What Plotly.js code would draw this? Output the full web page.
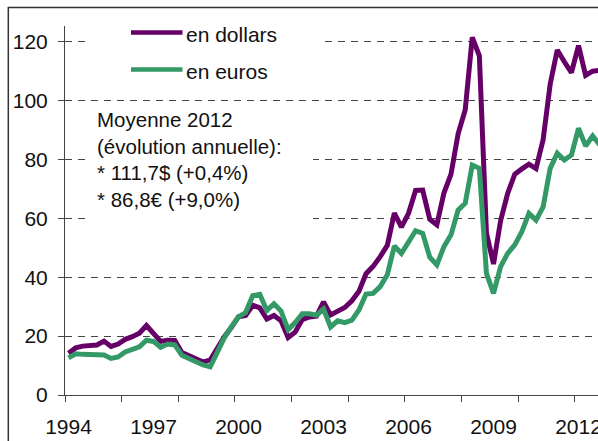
<!DOCTYPE html>
<html>
<head>
<meta charset="utf-8">
<script src="https://cdn.plot.ly/plotly-3.0.1.min.js"></script>
<style>html,body{margin:0;padding:0;background:#fff;overflow:hidden}</style>
</head>
<body>
<div id="chart" style="width:598px;height:441px"></div>
<script>
// ---- Data (quarterly averages, Brent) ----
const years = [1994,1995,1996,1997,1998,1999,2000,2001,2002,2003,2004,2005,2006,2007,2008,2009,2010,2011,2012];
const tickYears = ['1994','1997','2000','2003','2006','2009','2012'];
const seriesNames = ['en dollars', 'en euros'];
const enDollars = [
  14.2,16.0,16.6,16.7,  17.0,18.3,16.5,17.3,  18.9,19.8,21.0,23.6,  21.0,18.2,18.6,18.5,
  14.4,13.3,12.3,11.2,  11.9,16.0,19.8,23.0,  26.6,27.0,30.5,29.6,  25.8,27.0,25.2,19.5,
  21.4,25.6,26.5,26.8,  31.6,27.2,28.6,29.7,  32.0,35.2,41.2,43.7,  47.0,50.8,61.8,57.0,
  61.7,69.5,69.6,59.7,  57.8,68.6,75.0,88.7,  96.8,121.5,115.2,55.0, 44.5,59.2,68.5,75.0,
  76.8,78.4,76.9,86.7,  105.6,117.2,113.2,109.5, 118.7,108.6,110.0,110.3
];
const enEuros = [
  12.6,14.0,13.8,13.6,  13.4,13.6,12.4,12.9,  14.6,15.4,16.4,18.6,  18.2,16.2,17.3,17.0,
  13.5,12.4,11.2,10.2,  9.6,14.5,19.5,23.2,   26.5,28.0,33.7,34.2,  28.7,31.0,28.5,22.2,
  24.6,27.6,27.6,27.1,  29.2,23.1,25.2,24.6,  25.4,28.9,34.3,34.5,  36.8,40.8,50.6,48.1,
  52.1,55.8,54.9,46.8,  44.2,50.4,54.4,62.8,  65.1,78.1,77.0,41.3,  34.5,43.6,48.1,51.0,
  55.5,61.7,59.4,63.9,  77.0,82.1,79.8,81.5,  90.6,84.6,88.0,84.9
];
const noteLines = ['Moyenne 2012', '(évolution annuelle):', '* 111,7$ (+0,4%)', '* 86,8€ (+9,0%)'];

// quarter index for each value
const quarters = [];
years.forEach(y => { for (let q = 1; q <= 4; q++) quarters.push(y + 'T' + q); });
const xIdx = quarters.map((_, i) => i);
const tickVals = tickYears.map(y => quarters.indexOf(y + 'T1'));
const majorTicks = [];
for (let k = 0; k * 8 < quarters.length; k++) majorTicks.push(k * 8 - 0.5);

// ---- Layout geometry ----
const W = 598, H = 441;
const L = 65, R = 598, T = 26, B = 395;
const pxPerQ = 7.083, pxPerUnit = 2.944;
const px = v => (v - L) / (R - L);
const py = v => (B - v) / (B - T);

const purple = '#660066', green = '#339966';
const FONT = 'Liberation Sans, Arial, sans-serif';

const traces = [
  {x: xIdx, y: enDollars, name: seriesNames[0], mode: 'lines', line: {color: purple, width: 5}, hoverinfo: 'skip'},
  {x: xIdx, y: enEuros, name: seriesNames[1], mode: 'lines', line: {color: green, width: 5}, hoverinfo: 'skip'}
];

const shapes = [
  // white boxes hiding gridlines behind legend and note
  {type: 'rect', xref: 'paper', yref: 'paper', layer: 'above', x0: px(86), x1: px(325), y0: py(90), y1: py(24), fillcolor: '#fff', line: {width: 0}},
  {type: 'rect', xref: 'paper', yref: 'paper', layer: 'above', x0: px(91), x1: px(313), y0: py(228), y1: py(108), fillcolor: '#fff', line: {width: 0}},
  // chart frame
  {type: 'rect', xref: 'paper', yref: 'paper', x0: px(8.3), x1: px(610), y0: py(460), y1: py(7.5), line: {color: '#333', width: 1.5}, fillcolor: 'rgba(0,0,0,0)'},
  // legend lines
  {type: 'line', xref: 'paper', yref: 'paper', x0: px(131), x1: px(182.5), y0: py(32.5), y1: py(32.5), line: {color: purple, width: 4.7}},
  {type: 'line', xref: 'paper', yref: 'paper', x0: px(131), x1: px(182.5), y0: py(69.5), y1: py(69.5), line: {color: green, width: 4.7}}
];

const annotations = [
  {xref: 'paper', yref: 'paper', x: px(184), y: py(34), xanchor: 'left', yanchor: 'middle', showarrow: false,
   text: seriesNames[0], font: {family: FONT, size: 21, color: '#111'}},
  {xref: 'paper', yref: 'paper', x: px(184), y: py(71), xanchor: 'left', yanchor: 'middle', showarrow: false,
   text: seriesNames[1], font: {family: FONT, size: 21, color: '#111'}},
  {xref: 'paper', yref: 'paper', x: px(95), y: py(159.5), xanchor: 'left', yanchor: 'middle', align: 'left', showarrow: false,
   text: noteLines.join('<br>'), font: {family: FONT, size: 20.5, color: '#111'}}
];

const layout = {
  width: W, height: H,
  margin: {l: L, r: W - R, t: T, b: H - B, pad: 0},
  paper_bgcolor: '#fff', plot_bgcolor: '#fff',
  showlegend: false,
  font: {family: FONT, size: 21, color: '#111'},
  xaxis: {
    range: [-0.5, -0.5 + (R - L) / pxPerQ],
    tickmode: 'array', tickvals: tickVals, ticktext: tickYears,
    ticks: 'outside', ticklen: 6, tickcolor: 'rgba(0,0,0,0)',
    minor: {tickmode: 'array', tickvals: majorTicks, ticks: 'outside', ticklen: 6, tickcolor: '#444', tickwidth: 1, showgrid: false},
    showline: true, linecolor: '#444', linewidth: 1,
    showgrid: false, zeroline: false,
    tickfont: {family: FONT, size: 21, color: '#111'},
    ticklabelstandoff: 7,
    ticklabeloverflow: 'allow'
  },
  yaxis: {
    range: [0, (B - T) / pxPerUnit],
    tickmode: 'array', tickvals: [0, 20, 40, 60, 80, 100, 120],
    ticks: 'outside', ticklen: 6, tickcolor: '#444', tickwidth: 1,
    showline: true, linecolor: '#444', linewidth: 1,
    showgrid: true, gridcolor: '#444', gridwidth: 1, griddash: '7px,6px',
    zeroline: false,
    tickfont: {family: FONT, size: 21, color: '#111'},
    ticklabelstandoff: 6
  },
  shapes: shapes,
  annotations: annotations
};

Plotly.newPlot('chart', traces, layout, {staticPlot: true, displayModeBar: false});
</script>
</body>
</html>
